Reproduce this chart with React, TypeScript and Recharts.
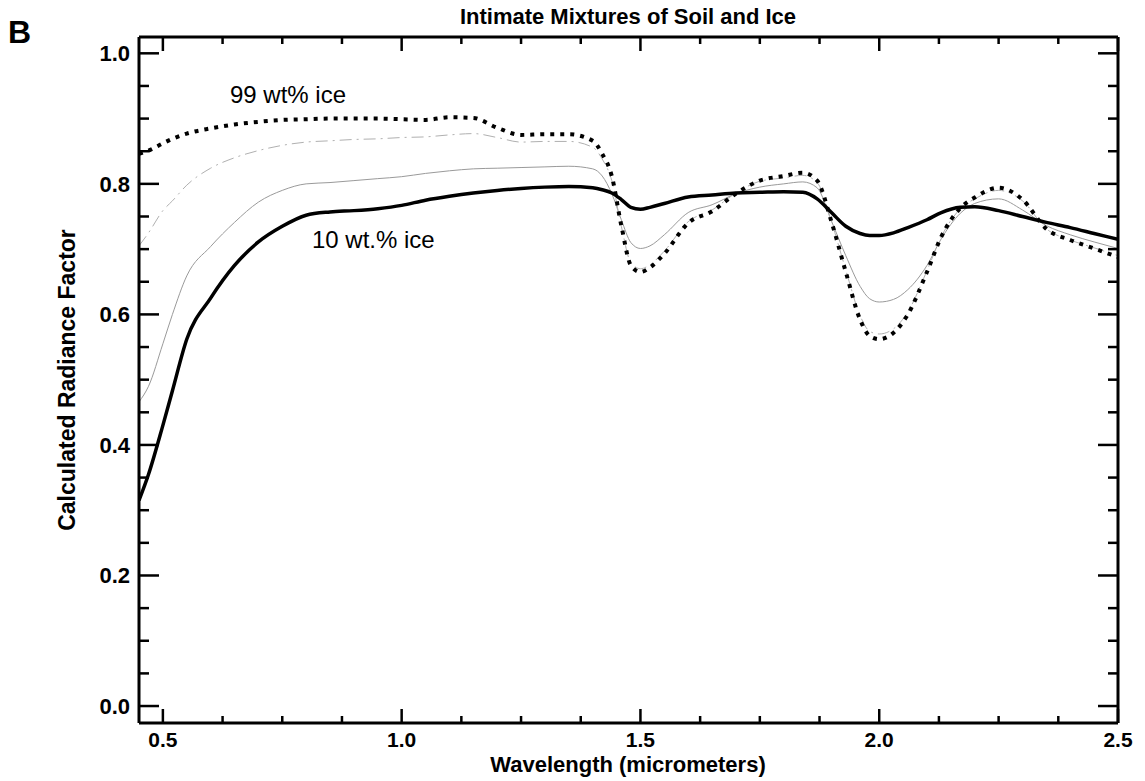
import React from "react";
import { LineChart, Line, XAxis, YAxis } from "recharts";

// Wavelength grid (micrometers) shared by all four mixtures
const wavelength = [
  0.45, 0.47, 0.5, 0.52, 0.55, 0.6, 0.65, 0.7, 0.75, 0.8, 0.85, 0.9, 0.95, 1.0,
  1.05, 1.1, 1.15, 1.2, 1.25, 1.3, 1.35, 1.4, 1.42, 1.44, 1.46, 1.48, 1.5, 1.52,
  1.55, 1.6, 1.65, 1.7, 1.75, 1.8, 1.84, 1.87, 1.9, 1.93, 1.96, 1.98, 2.0, 2.03,
  2.06, 2.1, 2.13, 2.17, 2.2, 2.25, 2.3, 2.35, 2.4, 2.45, 2.5,
];

// 99 wt% ice (dotted)
const ice99 = [
  0.846, 0.851, 0.862, 0.869, 0.877, 0.885, 0.891, 0.895, 0.898, 0.899, 0.9, 0.9, 0.9, 0.899,
  0.898, 0.902, 0.901, 0.886, 0.875, 0.876, 0.876, 0.866, 0.846, 0.812, 0.736, 0.675, 0.665, 0.672,
  0.693, 0.74, 0.758, 0.785, 0.805, 0.812, 0.817, 0.805, 0.742, 0.665, 0.592, 0.567, 0.562, 0.572,
  0.6, 0.665, 0.719, 0.763, 0.779, 0.794, 0.776, 0.731, 0.714, 0.701, 0.688,
];

// intermediate mixture (grey dash-dot)
const iceHigh = [
  0.705, 0.725, 0.759, 0.774, 0.798, 0.824, 0.84, 0.851, 0.859, 0.864, 0.866, 0.868, 0.869, 0.871,
  0.872, 0.875, 0.877, 0.871, 0.864, 0.865, 0.865, 0.856, 0.838, 0.805, 0.735, 0.679, 0.67, 0.676,
  0.697, 0.742, 0.76, 0.786, 0.804, 0.809, 0.813, 0.802, 0.742, 0.668, 0.598, 0.574, 0.57, 0.578,
  0.604, 0.667, 0.719, 0.762, 0.777, 0.79, 0.774, 0.731, 0.714, 0.702, 0.69,
];

// intermediate mixture (thin grey)
const iceLow = [
  0.466, 0.49, 0.555, 0.6, 0.659, 0.704, 0.741, 0.772, 0.79, 0.8, 0.802, 0.805, 0.808, 0.811,
  0.816, 0.82, 0.823, 0.824, 0.825, 0.826, 0.827, 0.823, 0.812, 0.785, 0.745, 0.71, 0.701, 0.705,
  0.722, 0.756, 0.768, 0.785, 0.795, 0.8, 0.803, 0.794, 0.743, 0.69, 0.643, 0.624, 0.619, 0.623,
  0.638, 0.675, 0.716, 0.755, 0.77, 0.777, 0.76, 0.736, 0.722, 0.711, 0.701,
];

// 10 wt.% ice (thick solid)
const ice10 = [
  0.315, 0.355, 0.43, 0.483, 0.562, 0.625, 0.675, 0.711, 0.735, 0.752, 0.757, 0.759, 0.762, 0.767,
  0.775, 0.781, 0.786, 0.79, 0.793, 0.795, 0.796, 0.794, 0.791, 0.786, 0.776, 0.764, 0.761, 0.764,
  0.77, 0.78, 0.783, 0.786, 0.787, 0.788, 0.787, 0.777, 0.756, 0.735, 0.724, 0.721, 0.721, 0.725,
  0.733, 0.745, 0.756, 0.764, 0.765, 0.759, 0.75, 0.741, 0.733, 0.724, 0.715,
];

const xMajor = [0.5, 1.0, 1.5, 2.0, 2.5];
const xTicks = [
  0.5, 0.625, 0.75, 0.875, 1.0, 1.125, 1.25, 1.375, 1.5, 1.625, 1.75, 1.875, 2.0, 2.125, 2.25,
  2.375, 2.5,
];
const yMajor = [0, 0.2, 0.4, 0.6, 0.8, 1.0];
const yTicks = [
  0, 0.05, 0.1, 0.15, 0.2, 0.25, 0.3, 0.35, 0.4, 0.45, 0.5, 0.55, 0.6, 0.65, 0.7, 0.75, 0.8,
  0.85, 0.9, 0.95, 1.0,
];

const X_DOMAIN = [0.45, 2.5];
const Y_DOMAIN = [-0.026, 1.025];

const FONT = '"Liberation Sans", Arial, Helvetica, sans-serif';
const AXIS_LINE = { stroke: "#000", strokeWidth: 3 };

const data = wavelength.map((w, i) => ({
  w,
  ice99: ice99[i],
  iceHigh: iceHigh[i],
  iceLow: iceLow[i],
  ice10: ice10[i],
}));

// inward-pointing ticks, IDL style
function BottomTick(props: any) {
  const { x, y, payload } = props;
  const major = xMajor.includes(payload.value);
  return (
    <g>
      <line x1={x} x2={x} y1={y} y2={y - (major ? 14 : 7)} stroke="#000" strokeWidth={2.5} />
      {major && (
        <text x={x} y={y + 24} textAnchor="middle" fontFamily={FONT} fontWeight="bold" fontSize={21} fill="#000">
          {payload.value.toFixed(1)}
        </text>
      )}
    </g>
  );
}

function TopTick(props: any) {
  const { x, y, payload } = props;
  const major = xMajor.includes(payload.value);
  return <line x1={x} x2={x} y1={y} y2={y + (major ? 14 : 7)} stroke="#000" strokeWidth={2.5} />;
}

function LeftTick(props: any) {
  const { x, y, payload } = props;
  const major = yMajor.includes(payload.value);
  return (
    <g>
      <line x1={x} x2={x + (major ? 20 : 10)} y1={y} y2={y} stroke="#000" strokeWidth={2.5} />
      {major && (
        <text x={x - 9} y={y + 8} textAnchor="end" fontFamily={FONT} fontWeight="bold" fontSize={22} fill="#000">
          {payload.value.toFixed(1)}
        </text>
      )}
    </g>
  );
}

function RightTick(props: any) {
  const { x, y, payload } = props;
  const major = yMajor.includes(payload.value);
  return <line x1={x} x2={x - (major ? 20 : 10)} y1={y} y2={y} stroke="#000" strokeWidth={2.5} />;
}

export default function App() {
  return (
    <div style={{ position: "absolute", left: 0, top: 0, width: 1145, height: 781, background: "#fff" }}>
      <LineChart
        width={1145}
        height={781}
        data={data}
        margin={{ top: 27, right: 17, bottom: 18, left: 79 }}
      >
        <XAxis
          dataKey="w"
          type="number"
          domain={X_DOMAIN}
          allowDataOverflow
          ticks={xTicks}
          interval={0}
          height={40}
          tickSize={0}
          tickMargin={0}
          tickLine={false}
          axisLine={AXIS_LINE}
          tick={BottomTick}
        />
        <XAxis
          xAxisId="top"
          dataKey="w"
          orientation="top"
          type="number"
          domain={X_DOMAIN}
          allowDataOverflow
          ticks={xTicks}
          interval={0}
          height={10}
          tickSize={0}
          tickMargin={0}
          tickLine={false}
          axisLine={AXIS_LINE}
          tick={TopTick}
        />
        <YAxis
          type="number"
          domain={Y_DOMAIN}
          allowDataOverflow
          ticks={yTicks}
          interval={0}
          width={60}
          tickSize={0}
          tickMargin={0}
          tickLine={false}
          axisLine={AXIS_LINE}
          tick={LeftTick}
        />
        <YAxis
          yAxisId="right"
          dataKey="ice10"
          orientation="right"
          type="number"
          domain={Y_DOMAIN}
          allowDataOverflow
          ticks={yTicks}
          interval={0}
          width={10}
          tickSize={0}
          tickMargin={0}
          tickLine={false}
          axisLine={AXIS_LINE}
          tick={RightTick}
        />
        <Line
          dataKey="iceLow"
          type="monotone"
          stroke="#9a9a9a"
          strokeWidth={1}
          dot={false}
          isAnimationActive={false}
        />
        <Line
          dataKey="iceHigh"
          type="monotone"
          stroke="#b0b0b0"
          strokeWidth={1}
          strokeDasharray="12 5 2 5"
          dot={false}
          isAnimationActive={false}
        />
        <Line
          dataKey="ice10"
          type="monotone"
          stroke="#000"
          strokeWidth={3.5}
          dot={false}
          isAnimationActive={false}
        />
        <Line
          dataKey="ice99"
          type="monotone"
          stroke="#000"
          strokeWidth={4}
          strokeDasharray="4 6"
          dot={false}
          isAnimationActive={false}
        />
      </LineChart>
      <svg
        width={1145}
        height={781}
        style={{ position: "absolute", left: 0, top: 0, pointerEvents: "none" }}
        fontFamily={FONT}
        fill="#000"
      >
        <text x={8} y={43} fontSize={32} fontWeight="bold">B</text>
        <text x={628} y={24} fontSize={22} fontWeight="bold" textAnchor="middle">
          Intimate Mixtures of Soil and Ice
        </text>
        <text x={628} y={772} fontSize={22} fontWeight="bold" textAnchor="middle">
          Wavelength (micrometers)
        </text>
        <text x={75} y={380} fontSize={23} fontWeight="bold" textAnchor="middle" transform="rotate(-90 75 380)">
          Calculated Radiance Factor
        </text>
        <text x={230} y={103} fontSize={24}>99 wt% ice</text>
        <text x={312} y={248} fontSize={24}>10 wt.% ice</text>
      </svg>
    </div>
  );
}
